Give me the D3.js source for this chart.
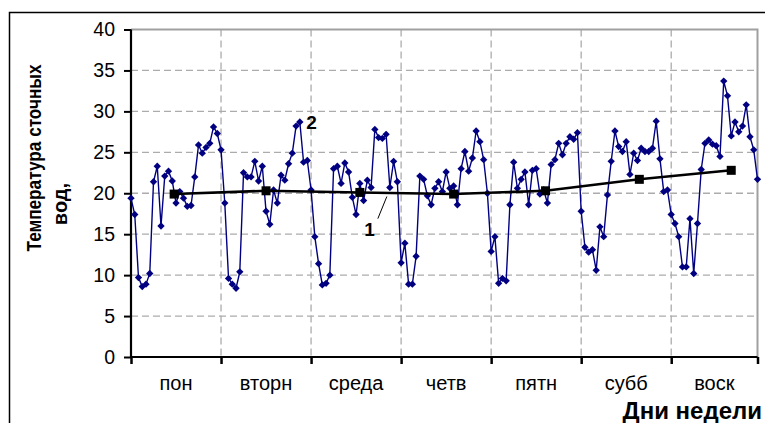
<!DOCTYPE html>
<html>
<head>
<meta charset="utf-8">
<script src="https://cdn.jsdelivr.net/npm/d3@7"></script>
<style>
  body { margin: 0; background: #fff; }
  text { font-family: "Liberation Sans", Arial, sans-serif; }
</style>
</head>
<body>
<div id="chart"></div>
<script>
// hourly temperature, 24 values per day (series 2)
var temp = [
  19.4, 17.4, 9.7, 8.6, 8.9, 10.2, 21.4, 23.3, 16.0, 22.1, 22.7, 21.5, 18.8, 20.2, 19.4, 18.4, 18.5, 22.0, 25.9, 24.9, 25.6, 26.1, 28.1, 27.3,
  25.3, 18.8, 9.6, 8.9, 8.4, 10.4, 22.5, 22.0, 22.0, 23.9, 21.5, 23.3, 17.8, 16.2, 20.4, 18.8, 22.2, 21.6, 23.6, 24.9, 28.2, 28.7, 23.8, 24.0,
  20.4, 14.7, 11.4, 8.8, 9.0, 10.0, 23.0, 23.3, 21.2, 23.7, 22.6, 19.5, 17.4, 21.2, 19.1, 21.6, 20.7, 27.8, 26.8, 26.7, 27.2, 20.7, 23.9, 21.4,
  11.5, 13.9, 8.9, 8.9, 12.3, 22.1, 21.7, 19.7, 18.6, 20.6, 21.4, 20.2, 22.6, 20.6, 20.9, 18.6, 23.0, 25.1, 22.7, 24.3, 27.6, 26.3, 24.1, 20.0,
  12.9, 14.7, 9.0, 9.6, 9.3, 18.6, 23.8, 20.6, 21.7, 22.6, 18.6, 22.8, 23.0, 19.9, 20.4, 18.8, 23.5, 24.1, 26.1, 24.7, 26.1, 26.9, 26.6, 27.4,
  17.8, 13.4, 12.8, 13.1, 10.6, 15.9, 14.7, 19.8, 23.9, 27.6, 25.7, 25.1, 26.3, 22.3, 24.9, 24.0, 25.5, 25.1, 25.1, 25.5, 28.8, 24.2, 20.2, 20.4,
  17.4, 16.3, 14.7, 11.0, 11.0, 16.9, 10.2, 16.3, 22.9, 26.1, 26.5, 26.0, 25.8, 24.5, 33.7, 31.9, 27.0, 28.7, 27.5, 28.2, 30.8, 26.9, 25.3, 21.7
];

// daily averages (series 1), placed at hour index
var avgHour = [11.5, 36, 61, 86, 110.5, 135.5, 160];
var avgTemp = [19.9, 20.3, 20.1, 19.9, 20.3, 21.7, 22.8];

var days = ["пон", "вторн", "среда", "четв", "пятн", "субб", "воск"];
var yTicks = [0, 5, 10, 15, 20, 25, 30, 35, 40];

var svgWidth = 765;
var svgHeight = 423;
var margin = { top: 29.5, right: 7.5, bottom: 66, left: 131 };
var chartWidth = svgWidth - margin.left - margin.right;
var chartHeight = svgHeight - margin.top - margin.bottom;

var svg = d3.select("#chart").append("svg")
    .attr("width", svgWidth)
    .attr("height", svgHeight);

// outer frame (only left and top edges are inside the picture)
svg.append("path")
    .attr("d", "M9.5,423V12.5H765")
    .attr("fill", "none")
    .attr("stroke", "#000")
    .attr("stroke-width", 1.5);

var g = svg.append("g")
    .attr("transform", `translate(${margin.left}, ${margin.top})`);

var x = d3.scaleLinear().domain([0, temp.length - 1]).range([0, chartWidth]);
var y = d3.scaleLinear().domain([0, 40]).range([chartHeight, 0]);

var dayStarts = d3.range(0, 7).map(d => d * 24);
var dayEdges = dayStarts.concat([temp.length - 1]);

// grid
g.selectAll(".hgrid").data(yTicks.filter(d => d > 0 && d < 40)).enter()
    .append("line")
    .attr("x1", 0).attr("x2", chartWidth)
    .attr("y1", d => y(d)).attr("y2", d => y(d))
    .attr("stroke", "#acacac").attr("stroke-width", 1.3)
    .attr("stroke-dasharray", "7,4");
g.selectAll(".vgrid").data(dayStarts.slice(1)).enter()
    .append("line")
    .attr("x1", d => x(d)).attr("x2", d => x(d))
    .attr("y1", 0).attr("y2", chartHeight)
    .attr("stroke", "#acacac").attr("stroke-width", 1.3)
    .attr("stroke-dasharray", "7,4");

// plot border (top, right)
g.append("path")
    .attr("d", `M0,0H${chartWidth}V${chartHeight}`)
    .attr("fill", "none")
    .attr("stroke", "#a0a0a0")
    .attr("stroke-width", 2);

// y axis
var leftAxis = d3.axisLeft(y).tickValues(yTicks).tickSize(7).tickPadding(9);
var yAxisG = g.append("g").call(leftAxis);
yAxisG.select(".domain").attr("stroke-width", 2.2).attr("d", `M0,0V${chartHeight}`);
yAxisG.selectAll(".tick line").attr("stroke-width", 2);
yAxisG.selectAll(".tick text").attr("font-size", 19.5).attr("font-family", "Liberation Sans, Arial, sans-serif");

// x axis
var bottomAxis = d3.axisBottom(x).tickValues(dayEdges).tickSize(7).tickFormat("");
var xAxisG = g.append("g").attr("transform", `translate(0, ${chartHeight})`).call(bottomAxis);
xAxisG.select(".domain").attr("stroke-width", 2.2).attr("d", `M0,0H${chartWidth}`);
xAxisG.selectAll(".tick line").attr("stroke-width", 2.5);

g.selectAll(".daylabel").data(days).enter()
    .append("text")
    .attr("x", (d, i) => (x(dayEdges[i]) + x(dayEdges[i + 1])) / 2)
    .attr("y", chartHeight + 33)
    .attr("text-anchor", "middle")
    .attr("font-size", 20)
    .text(d => d);

// series 2: hourly
var line = d3.line().x((d, i) => x(i)).y(d => y(d));
g.append("path")
    .datum(temp)
    .attr("d", line)
    .attr("fill", "none")
    .attr("stroke", "#000080")
    .attr("stroke-width", 1.4);

var diamond = d3.symbol().type(d3.symbolSquare).size(27);
g.selectAll(".pt").data(temp).enter()
    .append("path")
    .attr("d", diamond)
    .attr("transform", (d, i) => `translate(${x(i)}, ${y(d)}) rotate(45)`)
    .attr("fill", "#000080");

// series 1: daily average
var avgData = avgHour.map((h, i) => ({ h: h, v: avgTemp[i] }));
g.append("path")
    .datum(avgData)
    .attr("d", d3.line().x(d => x(d.h)).y(d => y(d.v)))
    .attr("fill", "none")
    .attr("stroke", "#000")
    .attr("stroke-width", 2.6);
g.selectAll(".sq").data(avgData).enter()
    .append("rect")
    .attr("x", d => x(d.h) - 4.5)
    .attr("y", d => y(d.v) - 4.5)
    .attr("width", 9).attr("height", 9)
    .attr("fill", "#000");

// series labels
g.append("line")
    .attr("x1", x(68.2)).attr("y1", y(19.6))
    .attr("x2", x(65.8)).attr("y2", y(16.9))
    .attr("stroke", "#000").attr("stroke-width", 1);
g.append("text")
    .attr("x", x(63.6)).attr("y", y(14.8))
    .attr("text-anchor", "middle")
    .attr("font-size", 19).attr("font-weight", "bold")
    .text("1");
g.append("text")
    .attr("x", x(48.1)).attr("y", y(27.9))
    .attr("text-anchor", "middle")
    .attr("font-size", 19).attr("font-weight", "bold")
    .text("2");

// axis titles
svg.append("text")
    .attr("transform", "translate(40.5, 158) rotate(-90)")
    .attr("text-anchor", "middle")
    .attr("font-size", 20).attr("font-weight", "bold")
    .attr("textLength", 187).attr("lengthAdjust", "spacingAndGlyphs")
    .text("Температура сточных");
svg.append("text")
    .attr("transform", "translate(66.5, 204) rotate(-90)")
    .attr("text-anchor", "middle")
    .attr("font-size", 20).attr("font-weight", "bold")
    .text("вод,");

svg.append("text")
    .attr("x", 762)
    .attr("y", 419)
    .attr("text-anchor", "end")
    .attr("font-size", 24).attr("font-weight", "bold")
    .text("Дни недели");
</script>
</body>
</html>
